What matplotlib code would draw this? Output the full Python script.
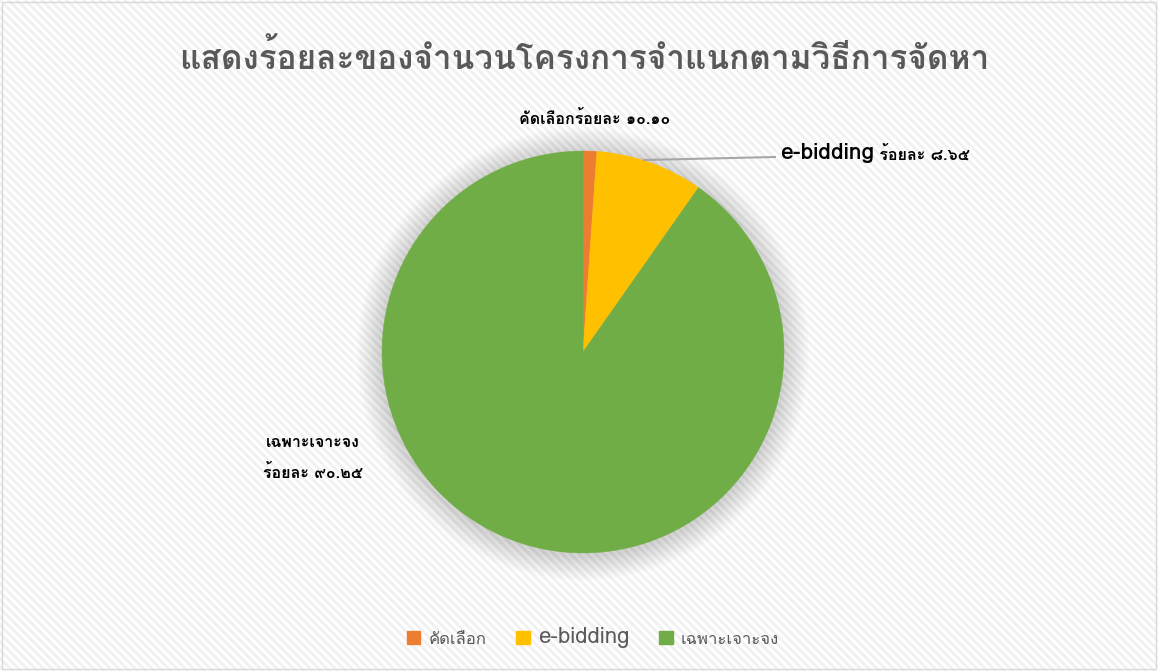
import matplotlib
matplotlib.use("Agg")
import matplotlib.pyplot as plt
from matplotlib import font_manager
from matplotlib.ft2font import FT2Font
from matplotlib.patches import Rectangle, Circle

# ---- data ----
categories = ["คัดเลือก", "e-bidding", "เฉพาะเจาะจง"]
values = [1.10, 8.65, 90.25]
colors = ["#ED7D31", "#FFC000", "#70AD47"]
title = "แสดงร้อยละของจำนวนโครงการจำแนกตามวิธีการจัดหา"
label_select = "คัดเลือกร้อยละ ๑๐.๑๐"
label_eb_name = "e-bidding"
label_eb_pct = " ร้อยละ ๘.๖๕"
label_specific = "เฉพาะเจาะจง\nร้อยละ ๙๐.๒๕"

# ---- find a Thai-capable font ----
thai_fonts = []
for f in font_manager.fontManager.ttflist:
    try:
        ft = FT2Font(f.fname)
        if ft.get_char_index(0x0E01) != 0:
            thai_fonts.append((f.name, f.fname, f.weight))
    except Exception:
        pass
thai_family = thai_fonts[0][0] if thai_fonts else "DejaVu Sans"
fam = [thai_family, "DejaVu Sans"]
plt.rcParams['font.family'] = fam
plt.rcParams['hatch.linewidth'] = 2.0

fig = plt.figure(figsize=(11.58, 6.71), dpi=100)
fig.patch.set_facecolor("white")
# striped background
bg = Rectangle((0, 0), 1, 1, transform=fig.transFigure, facecolor="white",
               edgecolor="#F1F1F1", hatch="\\\\\\\\", linewidth=0.0, zorder=-10)
fig.patches.append(bg)
border = Rectangle((0.002, 0.003), 0.996, 0.994, transform=fig.transFigure,
                   fill=False, edgecolor="#D9D9D9", linewidth=1.0, zorder=-9)
fig.patches.append(border)

W, H = 1158, 671
cx, cy, r = 583, 352, 201
ax = fig.add_axes([(cx - r) / W, (H - cy - r) / H, 2 * r / W, 2 * r / H])
ax.patch.set_alpha(0)

# soft shadow
for i in range(14):
    ax.add_patch(Circle((0, -0.01), 1.0 + 0.009 * (14 - i), color="#000000",
                        alpha=0.013, linewidth=0, zorder=0, clip_on=False))

wedges, _ = ax.pie(values, colors=colors, startangle=90, counterclock=False,
                   radius=1.0, wedgeprops=dict(linewidth=0.3))
for w, c in zip(wedges, colors):
    w.set_zorder(2)
    w.set_edgecolor(c)
ax.set_xlim(-1, 1)
ax.set_ylim(-1, 1)
ax.set_aspect("equal")
ax.axis("off")

fig.text(584 / W, 1 - 57 / H, title, ha="center", va="center", fontsize=24,
         fontweight="bold", color="#595959")

fig.text(595 / W, 1 - 118 / H, label_select, ha="center", va="center",
         fontsize=11.5, fontweight="bold", color="#000000")
t1 = fig.text(780 / W, 1 - 153 / H, label_eb_name, ha="left", va="center",
              fontsize=16.5, fontweight="bold", color="#000000")
fig.canvas.draw()
bb = t1.get_window_extent()
fig.text(bb.x1 / W, 1 - 154 / H, label_eb_pct, ha="left", va="center",
         fontsize=11.5, fontweight="bold", color="#000000")
fig.text(313 / W, 1 - 458 / H, label_specific, ha="center", va="center",
         fontsize=11.5, fontweight="bold", color="#000000", linespacing=1.9)

# leader line
fig.add_artist(plt.Line2D([644 / W, 775 / W], [1 - 160 / H, 1 - 157 / H],
                          color="#A6A6A6", linewidth=1.5))

handles = [Rectangle((0, 0), 1, 1, color=c) for c in colors]
leg = fig.legend(handles, categories, loc="center", bbox_to_anchor=(0.512, 1 - 638 / H),
                 ncol=3, frameon=False, fontsize=12, handlelength=0.8, handleheight=0.8,
                 columnspacing=1.8, handletextpad=0.5)
for t in leg.get_texts():
    t.set_color("#595959")
leg.get_texts()[1].set_fontsize(16)

fig.savefig("out.png", dpi=100, facecolor=fig.get_facecolor())
